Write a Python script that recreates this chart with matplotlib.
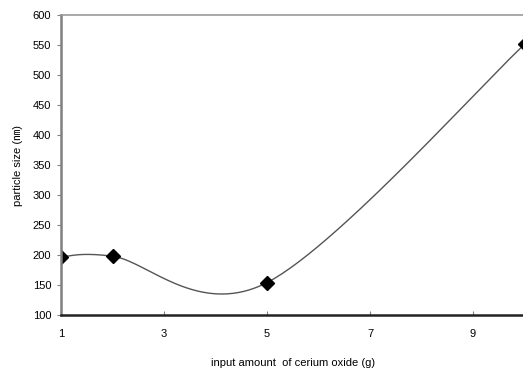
import numpy as np
import matplotlib
matplotlib.use('Agg')
import matplotlib.pyplot as plt

plt.rcParams['font.family'] = ['Liberation Sans', 'Noto Sans CJK KR', 'DejaVu Sans']

# data
cerium_g = [1, 2, 5, 10]
size_nm = [197, 198, 154, 551]
x_ticks = [1, 3, 5, 7, 9]
y_ticks = list(range(100, 601, 50))


def smooth_curve(xs, ys, n=60):
    # Excel-style smoothed line (Bezier through points, control = neighbour diff / 6)
    pts = np.column_stack([xs, ys]).astype(float)
    out = []
    for i in range(len(pts) - 1):
        p0 = pts[i - 1] if i > 0 else pts[i]
        p1 = pts[i]
        p2 = pts[i + 1]
        p3 = pts[i + 2] if i + 2 < len(pts) else pts[i + 1]
        c1 = p1 + (p2 - p0) / 6
        c2 = p2 - (p3 - p1) / 6
        t = np.linspace(0, 1, n)[:, None]
        seg = ((1 - t) ** 3) * p1 + 3 * ((1 - t) ** 2) * t * c1 + 3 * (1 - t) * t ** 2 * c2 + t ** 3 * p2
        out.append(seg)
    out = np.vstack(out)
    return out[:, 0], out[:, 1]


fig = plt.figure(figsize=(5.23, 3.72), dpi=100)
ax = fig.add_axes([61 / 523, 57 / 372, 463.5 / 523, 300 / 372])

sx, sy = smooth_curve(cerium_g, size_nm)
ax.plot(sx, sy, color='#555555', lw=1.0)
ax.plot(cerium_g, size_nm, linestyle='none', marker='D', ms=7.5, color='black')

ax.set_xlim(1, 10)
ax.set_ylim(100, 600)
ax.set_xticks(x_ticks)
ax.set_yticks(y_ticks)

ax.spines['right'].set_visible(False)
ax.spines['top'].set_color('#999999')
ax.spines['top'].set_linewidth(1.2)
ax.spines['left'].set_color('#808080')
ax.spines['left'].set_linewidth(1.8)
ax.spines['bottom'].set_color('#222222')
ax.spines['bottom'].set_linewidth(1.8)

ax.tick_params(axis='y', direction='out', length=3, width=0.8, color='#808080', pad=4, labelsize=8)
ax.tick_params(axis='x', direction='in', length=3, width=0.8, color='#808080', pad=10, labelsize=8)

ax.set_ylabel('particle size (㎚)', fontsize=8, labelpad=7)
ax.set_xlabel('input amount  of cerium oxide (g)', fontsize=8, labelpad=14)

fig.savefig('out.png', dpi=100)
